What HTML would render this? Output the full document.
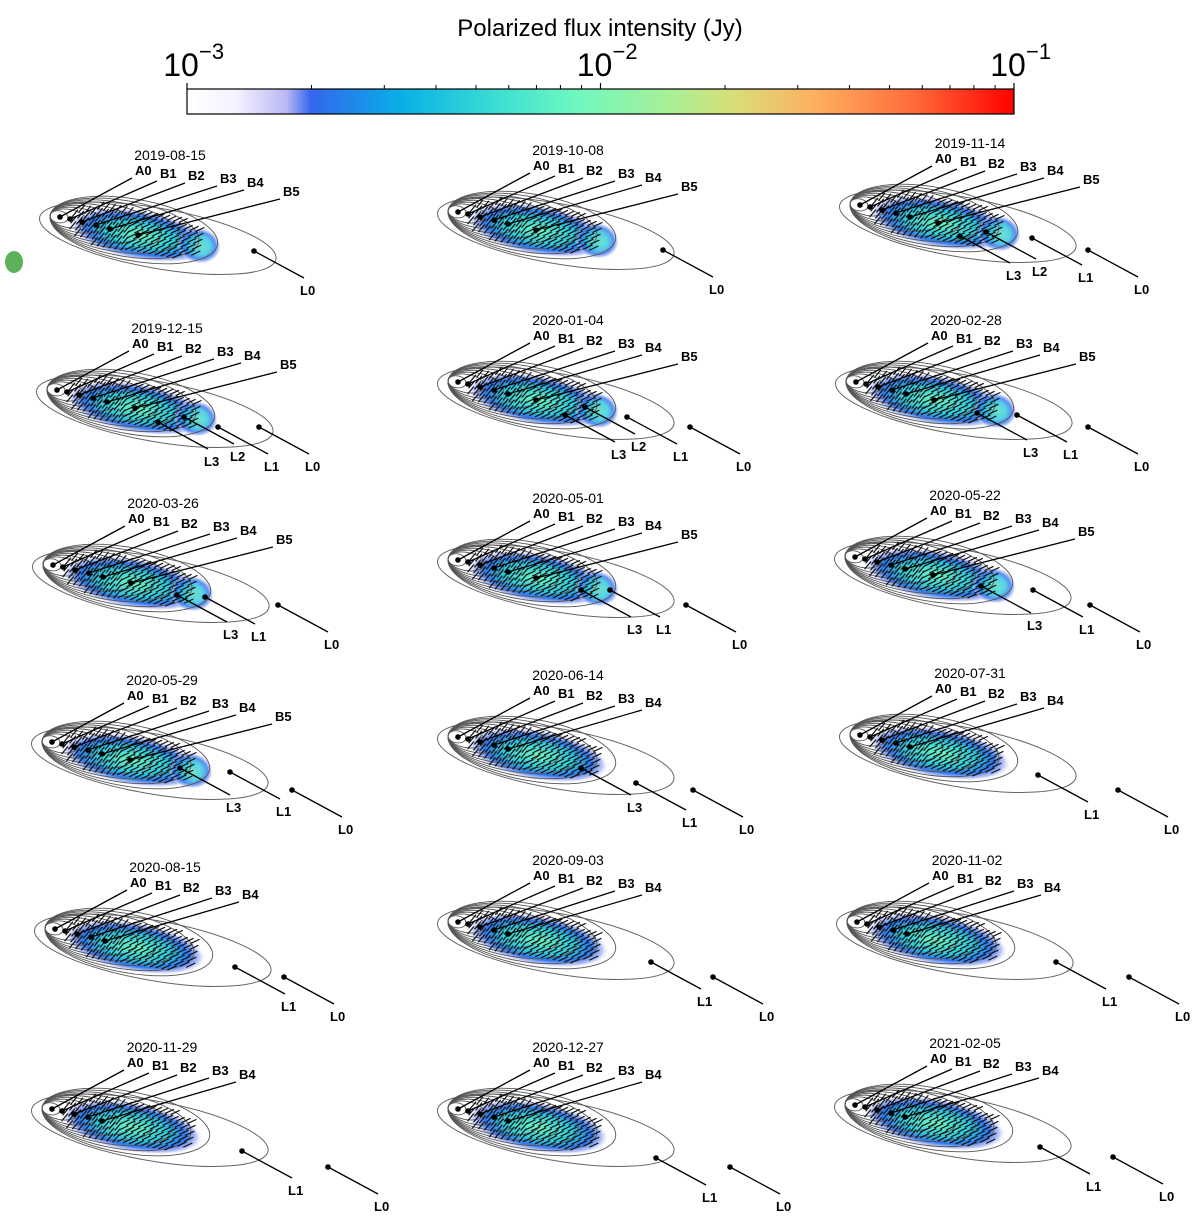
<!DOCTYPE html>
<html><head><meta charset="utf-8"><style>
body{margin:0;background:#fff}
svg{display:block;font-family:"Liberation Sans","DejaVu Sans",sans-serif}
</style></head><body>
<svg id="fig" width="1200" height="1221" viewBox="0 0 1200 1221">
<defs>
<linearGradient id="cmap" x1="0" x2="1" y1="0" y2="0">
<stop offset="0" stop-color="#ffffff"/><stop offset="0.06" stop-color="#f4f2ff"/>
<stop offset="0.12" stop-color="#b9b8f4"/><stop offset="0.15" stop-color="#3366ee"/>
<stop offset="0.26" stop-color="#08b0e6"/><stop offset="0.38" stop-color="#3fe0d2"/>
<stop offset="0.47" stop-color="#6ef8c0"/><stop offset="0.58" stop-color="#a6f098"/>
<stop offset="0.66" stop-color="#d8de78"/><stop offset="0.76" stop-color="#fdb060"/>
<stop offset="0.88" stop-color="#ff6a3a"/><stop offset="1" stop-color="#ff0000"/>
</linearGradient>
<radialGradient id="blob">
<stop offset="0" stop-color="#70f5c0"/><stop offset="0.5" stop-color="#2cc8dc"/>
<stop offset="0.75" stop-color="#2e74ee"/><stop offset="0.9" stop-color="#aab6f4" stop-opacity="0.8"/>
<stop offset="1" stop-color="#ffffff" stop-opacity="0"/>
</radialGradient>
</defs>
<text x="600" y="36" font-size="24" text-anchor="middle">Polarized flux intensity (Jy)</text>
<g id="cbar"></g>
<g id="panels"></g>
</svg>
<script>
const NS="http://www.w3.org/2000/svg";
const cbarTickMajors=[-3,-2,-1];
const cbarMinor=[2,3,4,5,6,7,8,9];
const panelDates=["2019-08-15","2019-10-08","2019-11-14","2019-12-15","2020-01-04","2020-02-28","2020-03-26","2020-05-01","2020-05-22","2020-05-29","2020-06-14","2020-07-31","2020-08-15","2020-09-03","2020-11-02","2020-11-29","2020-12-27","2021-02-05"];
const titleX=[170,568,970,167,568,966,163,568,965,162,568,970,165,568,967,162,568,965];
const titleY=[155,150,143,328,320,320,503,498,495,680,675,673,867,860,860,1047,1047,1043];
const hasB5=[1,1,1,1,1,1,1,1,1,1,0,0,0,0,0,0,0,0];
const bottomLabels=[
[["L0",306,291]],
[["L0",715,290]],
[["L3",1012,276],["L2",1038,272],["L1",1084,278],["L0",1140,290]],
[["L3",210,462],["L2",236,457],["L1",270,467],["L0",311,467]],
[["L3",617,455],["L2",637,447],["L1",679,457],["L0",742,467]],
[["L3",1029,453],["L1",1069,455],["L0",1140,467]],
[["L3",229,635],["L1",257,637],["L0",330,645]],
[["L3",633,630],["L1",662,630],["L0",738,645]],
[["L3",1033,626],["L1",1085,630],["L0",1142,645]],
[["L3",232,808],["L1",282,812],["L0",344,830]],
[["L3",633,808],["L1",688,823],["L0",745,830]],
[["L1",1090,815],["L0",1170,830]],
[["L1",287,1007],["L0",336,1017]],
[["L1",703,1002],["L0",765,1017]],
[["L1",1108,1002],["L0",1181,1017]],
[["L1",294,1191],["L0",380,1207]],
[["L1",708,1198],["L0",782,1207]],
[["L1",1092,1187],["L0",1165,1197]]];
function mk(t,a,p){const e=document.createElementNS(NS,t);for(const k in a)e.setAttribute(k,a[k]);(p||null)&&p.appendChild(e);return e;}
const cb=document.getElementById('cbar');
const cx0=187,cx1=1014,cy0=89,cy1=114;
const sx=v=>cx0+(v+3)/2*(cx1-cx0);
mk('rect',{x:cx0,y:cy0,width:cx1-cx0,height:cy1-cy0,fill:'url(#cmap)',stroke:'#000','stroke-width':1.2},cb);
cbarTickMajors.forEach(m=>{
 const x=sx(m);
 const l=mk('line',{x1:x,x2:x,y1:cy0-6,y2:cy0,stroke:'#000','stroke-width':1.2},cb);
 
 
 const t=mk('text',{x:x-6,y:76,'font-size':32,'text-anchor':'middle'},cb);
 
 
 t.textContent='10';
 const s=mk('text',{x:x+12,y:59,'font-size':22},cb);
 s.textContent='\u2212'+(-m);
 if(m<-1){cbarMinor.forEach(k=>{const xx=sx(m+Math.log10(k));
  const ml=mk('line',{x1:xx,x2:xx,y1:cy0-4,y2:cy0,stroke:'#000','stroke-width':1},cb);
  
  });}
});
const P=document.getElementById('panels');
const topNames=["A0","B1","B2","B3","B4","B5"];
const topOff=[[-35,20],[-10,23],[18,25],[50,28],[77,32],[113,41]];
const dotOff=[[0,0],[10,2],[22,5],[36,8],[50,12],[78,18]];
panelDates.forEach((d,i)=>{
 const tx=titleX[i],ty=titleY[i];
 const g=mk('g',{},P);
 
 
 const c=[tx-110,ty+62];
 const ang=10;
 const tr=`rotate(${ang} ${c[0]} ${c[1]})`;
 const oc=mk('ellipse',{cx:c[0]+100,cy:c[1]+4,rx:120,ry:30,fill:'none',stroke:'#666','stroke-width':1,transform:tr},g);
 
 
 const b=mk('ellipse',{cx:c[0]+82,cy:c[1]+4,rx:72,ry:25,fill:'url(#blob)',transform:tr},g);
 
 
 if(hasB5[i]){const b2=mk('ellipse',{cx:c[0]+142,cy:c[1]+4,rx:22,ry:18,fill:'url(#blob)',transform:tr,opacity:0.8},g);
  
  }
 for(let k=0;k<9;k++){
  const rx=9+k*9.5,ry=6+k*3.1;
  const e=mk('ellipse',{cx:c[0]+rx-10,cy:c[1],rx:rx,ry:ry,fill:'none',stroke:'#555','stroke-width':0.9,transform:tr},g);
  
  
 }
 const vg=mk('g',{transform:tr,stroke:'#111','stroke-width':1.2},g);
 
 
 for(let u=14;u<=140;u+=6){for(let v=-18;v<=18;v+=6){
  const nx=(u-80)/72,ny=v/24; if(nx*nx+ny*ny>1)continue;
  const a=(u<70?-60:-35)*Math.PI/180;const x=c[0]+u,y=c[1]+v;
  mk('line',{x1:x-5*Math.cos(a),y1:y-5*Math.sin(a),x2:x+5*Math.cos(a),y2:y+5*Math.sin(a)},vg);}}
 const n=hasB5[i]?6:5;
 for(let k=0;k<n;k++){
  const lx=tx+topOff[k][0],ly=ty+topOff[k][1];
  const dx=c[0]+dotOff[k][0],dy=c[1]+dotOff[k][1];
  mk('line',{x1:lx-3,y1:ly+3,x2:dx,y2:dy,stroke:'#000','stroke-width':1.3},g);
  mk('circle',{cx:dx,cy:dy,r:2.8,fill:'#000'},g);
  const t=mk('text',{x:lx,y:ly,'font-size':13,'font-weight':'bold'},g);
  
  
  t.textContent=topNames[k];
 }
 bottomLabels[i].forEach(L=>{
  const dx=L[1]-52,dy=L[2]-40;
  mk('line',{x1:L[1]-2,y1:L[2]-13,x2:dx,y2:dy,stroke:'#000','stroke-width':1.3},g);
  mk('circle',{cx:dx,cy:dy,r:2.8,fill:'#000'},g);
  const t=mk('text',{x:L[1]-6,y:L[2]+4,'font-size':13,'font-weight':'bold'},g);
  
  
  t.textContent=L[0];
 });
 const tt=mk('text',{x:tx,y:ty+5,'font-size':14,'text-anchor':'middle'},g);
 
 
 tt.textContent=d;
});
const beam=mk('ellipse',{cx:14,cy:262,rx:9,ry:11,fill:'#5cb15a'},P);


</script>
</body></html>
